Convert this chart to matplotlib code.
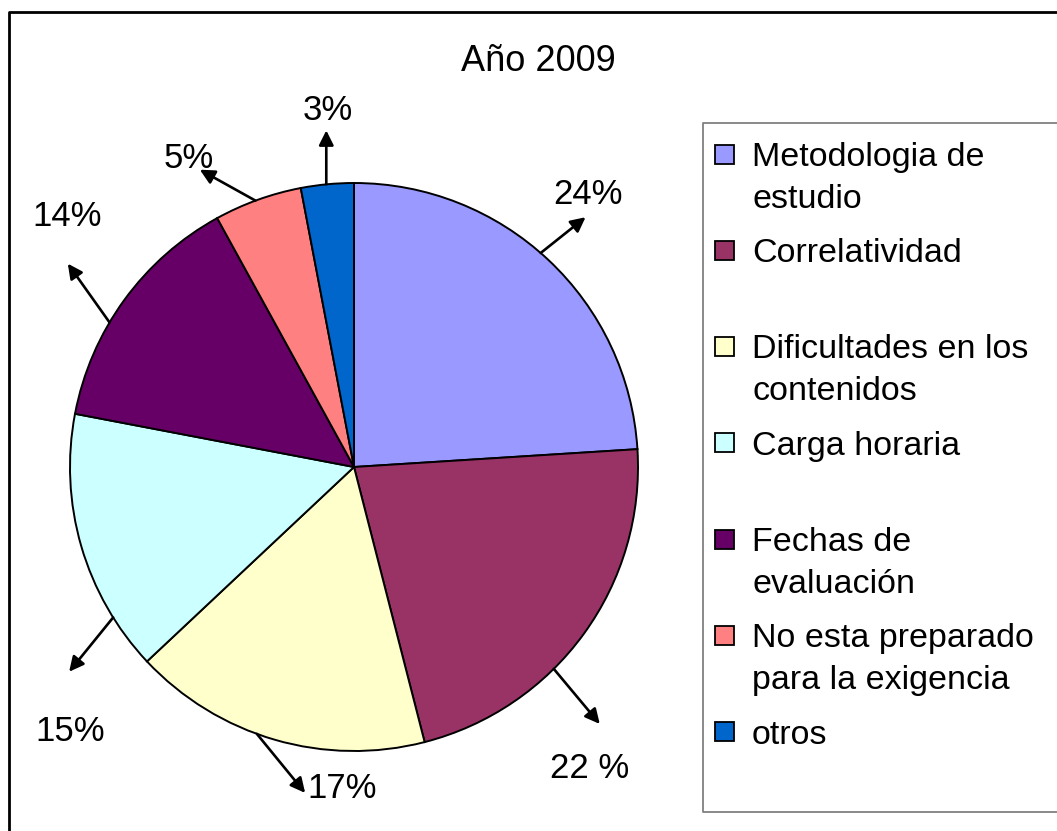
import matplotlib
matplotlib.use("Agg")
import matplotlib.pyplot as plt
import numpy as np
from matplotlib.lines import Line2D
from matplotlib.patches import Rectangle

plt.rcParams['font.family'] = ['Liberation Sans', 'DejaVu Sans']

# data
title = "Año 2009"
categories = ["Metodologia de\nestudio", "Correlatividad", "Dificultades en los\ncontenidos",
              "Carga horaria", "Fechas de\nevaluación", "No esta preparado\npara la exigencia", "otros"]
values = [24, 22, 17, 15, 14, 5, 3]
pct_labels = ["24%", "22 %", "17%", "15%", "14%", "5%", "3%"]
colors = ["#9999FF", "#993366", "#FFFFCC", "#CCFFFF", "#660066", "#FF8080", "#0066CC"]

# layout of the hand placed arrows: angle nudge (deg), arrow vector, label offset from arrow head
ang_nudge = [2.1, -9.3, -3.8, 15.8, 5.4, 0.5, 0.2]
arrow_vec = [(0.158, 0.126), (0.162, -0.194), (0.170, -0.208), (-0.155, -0.191),
             (-0.147, 0.207), (-0.196, 0.109), (0.0, 0.19)]
label_off = [(0.007, 0.089), (-0.035, -0.145), (0.129, 0.027), (0.003, -0.201),
             (-0.001, 0.177), (-0.040, 0.050), (0.005, 0.080)]

W, H = 1057, 831
cx, cy, R = 354, 467, 284

fig = plt.figure(figsize=(W / 100, H / 100), dpi=100)
ax = fig.add_axes([0, 0, 1, 1])

wedges, _ = ax.pie(values, colors=colors, startangle=90, counterclock=False, radius=1,
                   wedgeprops=dict(edgecolor='black', linewidth=1.4))
ax.set_xlim(-cx / R, (W - cx) / R)
ax.set_ylim((cy - H) / R, cy / R)
ax.set_aspect('auto')
ax.axis('off')

# percentage labels with arrows
frac = np.array(values) / sum(values)
cum = np.cumsum(frac) - frac / 2
mid = 90 - cum * 360
cap = 25 / R
for i in range(len(values)):
    a = np.deg2rad(mid[i] + ang_nudge[i])
    tx, ty = np.cos(a), np.sin(a)
    hx, hy = tx + arrow_vec[i][0], ty + arrow_vec[i][1]
    ax.annotate("", xy=(hx, hy), xytext=(tx, ty),
                arrowprops=dict(arrowstyle='-|>', color='black', lw=1.9,
                                mutation_scale=22, shrinkA=0, shrinkB=0))
    ax.text(hx + label_off[i][0], hy + label_off[i][1] - cap / 2, pct_labels[i],
            fontsize=25, ha='center', va='baseline', color='black')

fig.text(538 / W, 1 - 70.7 / H, title, fontsize=26, ha='center', va='baseline')

# outer frame (right and bottom edges fall outside the picture)
fig.add_artist(Line2D([9 / W, 9 / W, 1.0], [0.0, 1 - 12 / H, 1 - 12 / H],
                      transform=fig.transFigure, color='black', lw=2.0))

# legend box
fig.add_artist(Line2D([1.0, 703 / W, 703 / W, 1.0], [1 - 123 / H, 1 - 123 / H, 1 - 812 / H, 1 - 812 / H],
                      transform=fig.transFigure, color='#808080', lw=1.3))

for i, lab in enumerate(categories):
    base = 166 + 96.25 * i
    fig.add_artist(Rectangle((715 / W, 1 - (base - 2.5) / H), 19 / W, 19 / H,
                             transform=fig.transFigure, facecolor=colors[i],
                             edgecolor='black', lw=1.3))
    for j, line in enumerate(lab.split("\n")):
        fig.text(752 / W, 1 - (base + 41.7 * j) / H, line, fontsize=24.5,
                 ha='left', va='baseline')

fig.savefig("out.png", dpi=100)
